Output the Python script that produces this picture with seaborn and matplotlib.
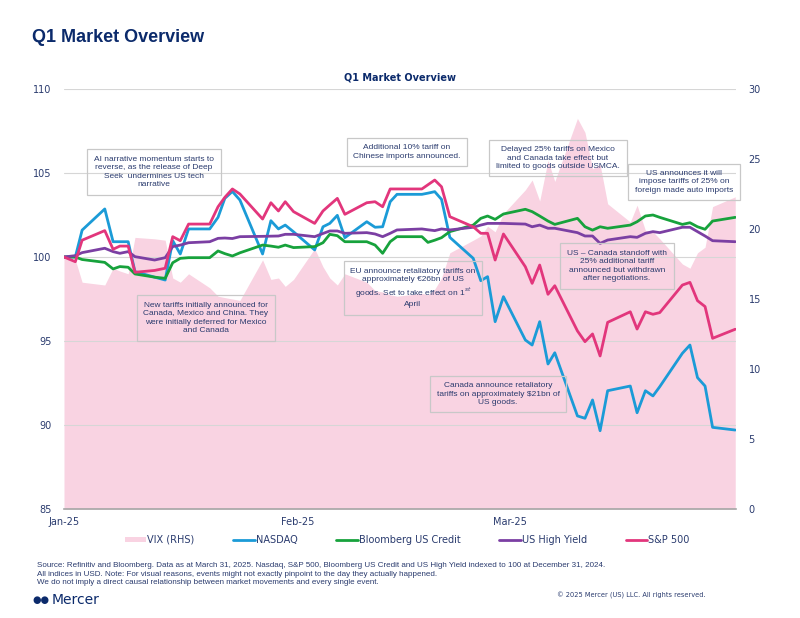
import pandas as pd
import matplotlib.pyplot as plt
from matplotlib.patches import Patch
from matplotlib.lines import Line2D
import seaborn as sns

# day offsets from Jan 1 2025 for each point
days = [0, 1.5, 2.4, 5.4, 6.5, 7.4, 8.5, 9.4, 12.0, 13.4, 14.4, 15.4, 16.5, 19.3, 20.4,
        21.3, 22.3, 23.3, 26.3, 27.4, 28.4, 29.3, 30.4, 33.2, 34.3, 35.2, 36.2, 37.2,
        40.1, 41.2, 42.2, 43.2, 44.1, 47.4, 48.2, 49.1, 50.0, 51.1, 54.2, 55.2, 56.1,
        57.1, 58.2, 61.1, 62.0, 63.0, 64.1, 65.0, 68.0, 69.0, 70.0, 71.0, 72.0, 75.0,
        75.9, 77.0, 78.0, 78.9, 81.9, 82.9, 83.9, 84.9, 85.9, 88.9]

nasdaq = [100, 100.0, 101.6, 102.86, 100.91, 100.91, 100.91, 99.13, 98.8, 98.63, 100.97,
          100.18, 101.67, 101.67, 102.36, 103.49, 103.9, 103.39, 100.18, 102.16, 101.67,
          101.9, 101.5, 100.42, 101.8, 102.0, 102.48, 101.15, 102.1, 101.77, 101.8, 103.29,
          103.73, 103.73, 103.8, 103.89, 103.43, 101.17, 99.92, 98.59, 98.83, 96.15, 97.64,
          95.06, 94.76, 96.15, 93.63, 94.3, 90.54, 90.4, 91.49, 89.66, 92.04, 92.32, 90.73,
          92.04, 91.73, 92.28, 94.27, 94.76, 92.82, 92.32, 89.86, 89.7]

sp500 = [100, 99.72, 101.0, 101.57, 100.46, 100.65, 100.65, 99.09, 99.2, 99.33, 101.21,
         100.97, 101.96, 101.96, 102.99, 103.55, 104.05, 103.75, 102.26, 103.23, 102.74,
         103.29, 102.7, 102.0, 102.74, 103.1, 103.49, 102.54, 103.23, 103.29, 102.99, 104.05,
         104.05, 104.05, 104.3, 104.58, 104.18, 102.4, 101.8, 101.41, 101.41, 99.82, 101.37,
         99.42, 98.43, 99.52, 97.78, 98.29, 95.6, 94.96, 95.42, 94.11, 96.11, 96.74, 95.71,
         96.74, 96.59, 96.69, 98.33, 98.49, 97.4, 97.05, 95.16, 95.7]

us_credit = [100, 100.0, 99.85, 99.68, 99.29, 99.43, 99.39, 98.99, 98.8, 98.73, 99.66,
             99.92, 99.96, 99.96, 100.36, 100.2, 100.06, 100.25, 100.71, 100.65, 100.58,
             100.71, 100.56, 100.62, 100.85, 101.35, 101.27, 100.91, 100.91, 100.71, 100.22,
             100.91, 101.21, 101.21, 100.87, 101.0, 101.15, 101.51, 101.9, 102.3, 102.44,
             102.24, 102.56, 102.84, 102.7, 102.44, 102.14, 101.94, 102.3, 101.8, 101.6,
             101.8, 101.71, 101.9, 102.1, 102.44, 102.5, 102.36, 101.94, 102.04, 101.8,
             101.65, 102.14, 102.36]

us_high_yield = [100, 100.08, 100.26, 100.52, 100.32, 100.22, 100.32, 100.02, 99.82, 99.96,
                 100.62, 100.71, 100.85, 100.91, 101.11, 101.13, 101.1, 101.21, 101.23,
                 101.24, 101.25, 101.35, 101.35, 101.21, 101.4, 101.55, 101.55, 101.41,
                 101.45, 101.37, 101.21, 101.41, 101.61, 101.67, 101.62, 101.57, 101.67,
                 101.61, 101.77, 101.9, 102.0, 102.0, 102.0, 101.96, 101.8, 101.9, 101.71,
                 101.71, 101.45, 101.25, 101.25, 100.81, 101.01, 101.21, 101.17, 101.41,
                 101.51, 101.45, 101.77, 101.77, 101.51, 101.25, 100.97, 100.91]

vix = [17.9, 17.8, 16.2, 16.0, 17.2, 17.0, 16.8, 19.4, 19.3, 19.2, 16.5, 16.2, 16.8, 15.8,
       15.2, 15.1, 15.0, 14.9, 17.8, 16.4, 16.5, 15.9, 16.4, 18.6, 17.3, 16.5, 16.0, 16.8,
       16.2, 15.6, 15.5, 15.3, 15.2, 15.4, 15.3, 15.7, 16.5, 18.3, 19.2, 19.5, 20.2, 19.8,
       21.1, 22.8, 23.5, 22.0, 24.9, 23.4, 27.9, 26.9, 24.3, 24.6, 21.8, 20.5, 21.7, 19.9,
       19.8, 19.3, 17.5, 17.2, 18.3, 18.7, 21.6, 22.3]

series_names = ['NASDAQ', 'Bloomberg US Credit', 'US High Yield', 'S&P 500']

notes = [
    "AI narrative momentum starts to\nreverse, as the release of Deep\nSeek  undermines US tech\nnarrative",
    "Additional 10% tariff on\nChinese imports announced.",
    "Delayed 25% tariffs on Mexico\nand Canada take effect but\nlimited to goods outside USMCA.",
    "US announces it will\nimpose tariffs of 25% on\nforeign made auto imports",
    "New tariffs initially announced for\nCanada, Mexico and China. They\nwere initially deferred for Mexico\nand Canada",
    "EU announce retaliatory tariffs on\napproximately \u20ac26bn of US\ngoods. Set to take effect on 1$^{st}$\nApril",
    "US \u2013 Canada standoff with\n25% additional tariff\nannounced but withdrawn\nafter negotiations.",
    "Canada announce retaliatory\ntariffs on approximately \\$21bn of\nUS goods.",
]

# build dataframe
dates = pd.Timestamp('2025-01-01') + pd.to_timedelta(days, unit='D')
df = pd.DataFrame({'Date': dates, 'NASDAQ': nasdaq, 'Bloomberg US Credit': us_credit,
                   'US High Yield': us_high_yield, 'S&P 500': sp500, 'VIX': vix})
long_df = df.melt(id_vars='Date', value_vars=series_names, var_name='Series', value_name='Index')

navy = '#0b2a6b'
text_col = '#2a3b6e'
colors = {'NASDAQ': '#1b9bd7', 'Bloomberg US Credit': '#17a23c',
          'US High Yield': '#7b3fa3', 'S&P 500': '#e2367c'}
vix_col = '#f9d3e2'

sns.set_style('white')
plt.rcParams['font.family'] = ['DejaVu Sans']
narrow = ['Liberation Sans', 'DejaVu Sans']

fig = plt.figure(figsize=(8, 6.18), dpi=100)
ax = fig.add_axes([64 / 800, 1 - 509 / 618, 672 / 800, 420 / 618])
ax_v = ax.twinx()

# VIX area on the right axis, behind the lines
ax_v.fill_between(df['Date'], 0, df['VIX'], color=vix_col, lw=0)
ax_v.set_ylim(0, 30)
ax_v.set_yticks(range(0, 31, 5))
ax.set_zorder(ax_v.get_zorder() + 1)
ax.patch.set_visible(False)

sns.lineplot(data=long_df, x='Date', y='Index', hue='Series', palette=colors,
             estimator=None, sort=False, lw=2, legend=False, ax=ax)

ax.set_ylim(85, 110)
ax.set_yticks(range(85, 111, 5))
ax.set_xlim(pd.Timestamp('2025-01-01'), pd.Timestamp('2025-03-31'))
ax.set_xticks([pd.Timestamp('2025-01-01'), pd.Timestamp('2025-02-01'),
               pd.Timestamp('2025-03-01'), pd.Timestamp('2025-03-31')])
ax.set_xticklabels(['Jan-25', 'Feb-25', 'Mar-25', ''])
ax.set_xlabel('')
ax.set_ylabel('')
ax.yaxis.grid(True, color='#d6d6d6', lw=0.8)

for a in (ax, ax_v):
    for s in ['top', 'left', 'right', 'bottom']:
        a.spines[s].set_visible(False)
ax.spines['bottom'].set_visible(True)
ax.spines['bottom'].set_color('#a6a6a6')
ax.spines['bottom'].set_linewidth(1.2)

ax.tick_params(axis='x', colors='#a6a6a6', length=3, width=1, labelcolor=text_col,
               labelsize=7, pad=3)
ax.tick_params(axis='y', length=0, labelcolor=text_col, labelsize=7, pad=9)
ax_v.tick_params(axis='y', length=0, labelcolor=text_col, labelsize=7, pad=9)

# titles
fig.text(32 / 800, 1 - 38 / 618, 'Q1 Market Overview', fontsize=13, fontweight='bold',
         color=navy, va='center', ha='left', family=narrow)
fig.text(400 / 800, 1 - 78 / 618, 'Q1 Market Overview', fontsize=7, fontweight='bold',
         color=navy, va='center', ha='center')

# event boxes
note_pos = [(154, 172), (407, 152), (558, 158), (684, 182),
            (206, 318), (413, 288), (617, 266), (498, 394)]
for txt, (px, py) in zip(notes, note_pos):
    fig.text(px / 800, 1 - py / 618, txt, fontsize=6.0, color=text_col, ha='center',
             va='center', linespacing=1.25, family=narrow,
             bbox=dict(boxstyle='square,pad=0.8', fc='none', ec='#c8c8c8', lw=0.9))

# legend
handles = [Patch(facecolor=vix_col, edgecolor='none', label='VIX (RHS)')]
for name in series_names:
    handles.append(Line2D([0], [0], color=colors[name], lw=2, label=name))
leg = fig.legend(handles=handles, loc='center', bbox_to_anchor=(407 / 800, 1 - 540 / 618),
                 ncol=5, frameon=False, fontsize=7, handlelength=2.2, handleheight=0.5,
                 handletextpad=0.1, columnspacing=4.0)
for t in leg.get_texts():
    t.set_color(text_col)

# footer
footer = ("Source: Refinitiv and Bloomberg. Data as at March 31, 2025. Nasdaq, S&P 500, Bloomberg US Credit "
          "and US High Yield indexed to 100 at December 31, 2024.\n"
          "All indices in USD. Note: For visual reasons, events might not exactly pinpoint to the day they actually happened.\n"
          "We do not imply a direct causal relationship between market movements and every single event.")
fig.text(37 / 800, 1 - 574 / 618, footer, fontsize=5.8, color=text_col, va='center',
         ha='left', linespacing=1.35, family=narrow)
fig.text(52 / 800, 1 - 600 / 618, 'Mercer', fontsize=10, color=navy, va='center', ha='left')
fig.text(32 / 800, 1 - 600 / 618, '\u25cf\u25cf', fontsize=7, color=navy, va='center', ha='left')
fig.text(706 / 800, 1 - 595 / 618, '\u00a9 2025 Mercer (US) LLC. All rights reserved.',
         fontsize=4.8, color=text_col, va='center', ha='right')

fig.savefig('out.png', dpi=100)
